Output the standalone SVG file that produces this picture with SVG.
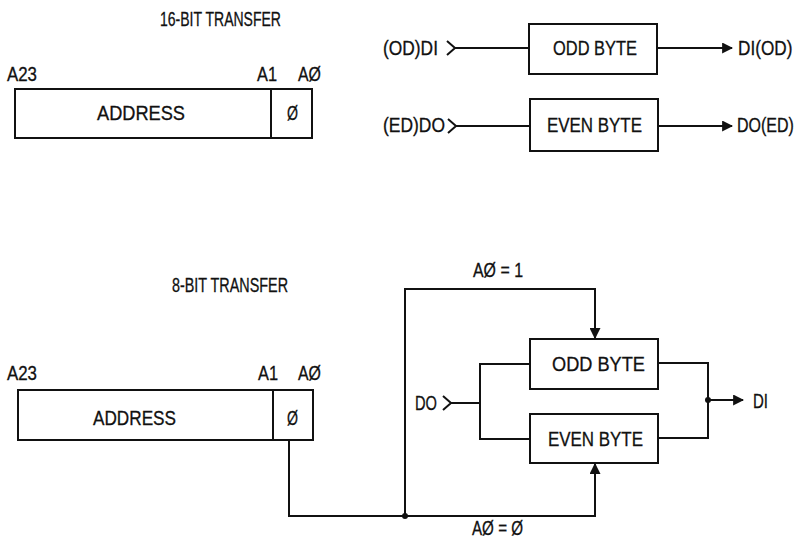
<svg xmlns="http://www.w3.org/2000/svg" width="800" height="539" viewBox="0 0 800 539">
<defs>
<style>
text{font-family:"Liberation Sans",Arial,sans-serif;font-size:20px;fill:#111;stroke:#111;stroke-width:0.3}
.box{fill:#fff;stroke:#111;stroke-width:2}
.ln{fill:none;stroke:#111;stroke-width:2}
</style>
<marker id="arr" viewBox="0 0 10 10" refX="9" refY="5" markerWidth="5.5" markerHeight="5.5" orient="auto" markerUnits="strokeWidth">
<path d="M0,0 L10,5 L0,10 Z" fill="#111"/>
</marker>
</defs>
<rect width="800" height="539" fill="#fff"/>

<text x="160" y="26" textLength="121" lengthAdjust="spacingAndGlyphs">16-BIT TRANSFER</text>
<text x="172" y="292" textLength="116" lengthAdjust="spacingAndGlyphs">8-BIT TRANSFER</text>

<g id="addr16">
<rect class="box" x="15" y="89" width="297" height="49"/>
<line class="ln" x1="271" y1="89" x2="271" y2="138"/>
<text x="7" y="81" textLength="30" lengthAdjust="spacingAndGlyphs">A23</text>
<text x="257" y="81" textLength="20" lengthAdjust="spacingAndGlyphs">A1</text>
<text x="298" y="81" textLength="23" lengthAdjust="spacingAndGlyphs">AØ</text>
<text x="97" y="120" textLength="88" lengthAdjust="spacingAndGlyphs">ADDRESS</text>
<text x="287" y="120" textLength="11" lengthAdjust="spacingAndGlyphs">Ø</text>
</g>

<g id="odd16">
<rect class="box" x="529" y="24" width="128" height="50"/>
<text x="553" y="55" textLength="84" lengthAdjust="spacingAndGlyphs">ODD BYTE</text>
</g>
<g id="even16">
<rect class="box" x="530" y="99" width="128" height="52"/>
<text x="547" y="132" textLength="95" lengthAdjust="spacingAndGlyphs">EVEN BYTE</text>
</g>

<g id="addr8">
<rect class="box" x="18" y="390" width="295" height="50"/>
<line class="ln" x1="273" y1="390" x2="273" y2="440"/>
<text x="7" y="380" textLength="30" lengthAdjust="spacingAndGlyphs">A23</text>
<text x="258" y="380" textLength="20" lengthAdjust="spacingAndGlyphs">A1</text>
<text x="298" y="380" textLength="23" lengthAdjust="spacingAndGlyphs">AØ</text>
<text x="93" y="425" textLength="83" lengthAdjust="spacingAndGlyphs">ADDRESS</text>
<text x="287" y="425" textLength="11" lengthAdjust="spacingAndGlyphs">Ø</text>
</g>

<g id="odd8">
<rect class="box" x="530" y="339" width="128" height="50"/>
<text x="552" y="371" textLength="93" lengthAdjust="spacingAndGlyphs">ODD BYTE</text>
</g>
<g id="even8">
<rect class="box" x="530" y="414" width="128" height="49"/>
<text x="548" y="446" textLength="95" lengthAdjust="spacingAndGlyphs">EVEN BYTE</text>
</g>

<g id="labels">
<text x="383" y="55" textLength="55" lengthAdjust="spacingAndGlyphs">(OD)DI</text>
<text transform="translate(738,55) scale(0.86,1)">DI(OD)</text>
<text x="383" y="132" textLength="62" lengthAdjust="spacingAndGlyphs">(ED)DO</text>
<text transform="translate(737,132) scale(0.8,1)">DO(ED)</text>
<text x="473" y="277" textLength="50" lengthAdjust="spacingAndGlyphs">AØ = 1</text>
<text x="472" y="535" textLength="51" lengthAdjust="spacingAndGlyphs">AØ = Ø</text>
<text x="415" y="410" textLength="22" lengthAdjust="spacingAndGlyphs">DO</text>
<text x="753" y="408" textLength="15" lengthAdjust="spacingAndGlyphs">DI</text>
</g>

<g id="connectors">
<path class="ln" d="M447,41 L455,48 L447,55"/>
<line class="ln" x1="455" y1="48" x2="529" y2="48"/>
<line class="ln" x1="657" y1="48" x2="732" y2="48" marker-end="url(#arr)"/>
<path class="ln" d="M448,119 L456,126 L448,133"/>
<line class="ln" x1="456" y1="126" x2="530" y2="126"/>
<line class="ln" x1="658" y1="126" x2="732" y2="126" marker-end="url(#arr)"/>
<path class="ln" d="M443,396 L451,403 L443,410"/>
<path class="ln" d="M451,403 L480,403"/>
<path class="ln" d="M530,364 L480,364 L480,439 L530,439"/>
<path class="ln" d="M658,363 L708,363 L708,438 L658,438"/>
<line class="ln" x1="708" y1="400" x2="743" y2="400" marker-end="url(#arr)"/>
<circle cx="708" cy="400" r="3" fill="#111"/>
<path class="ln" d="M289,440 L289,516 L595,516 L595,464" marker-end="url(#arr)"/>
<path class="ln" d="M405,516 L405,289 L595,289 L595,338" marker-end="url(#arr)"/>
<circle cx="405" cy="516" r="3" fill="#111"/>
</g>
</svg>
